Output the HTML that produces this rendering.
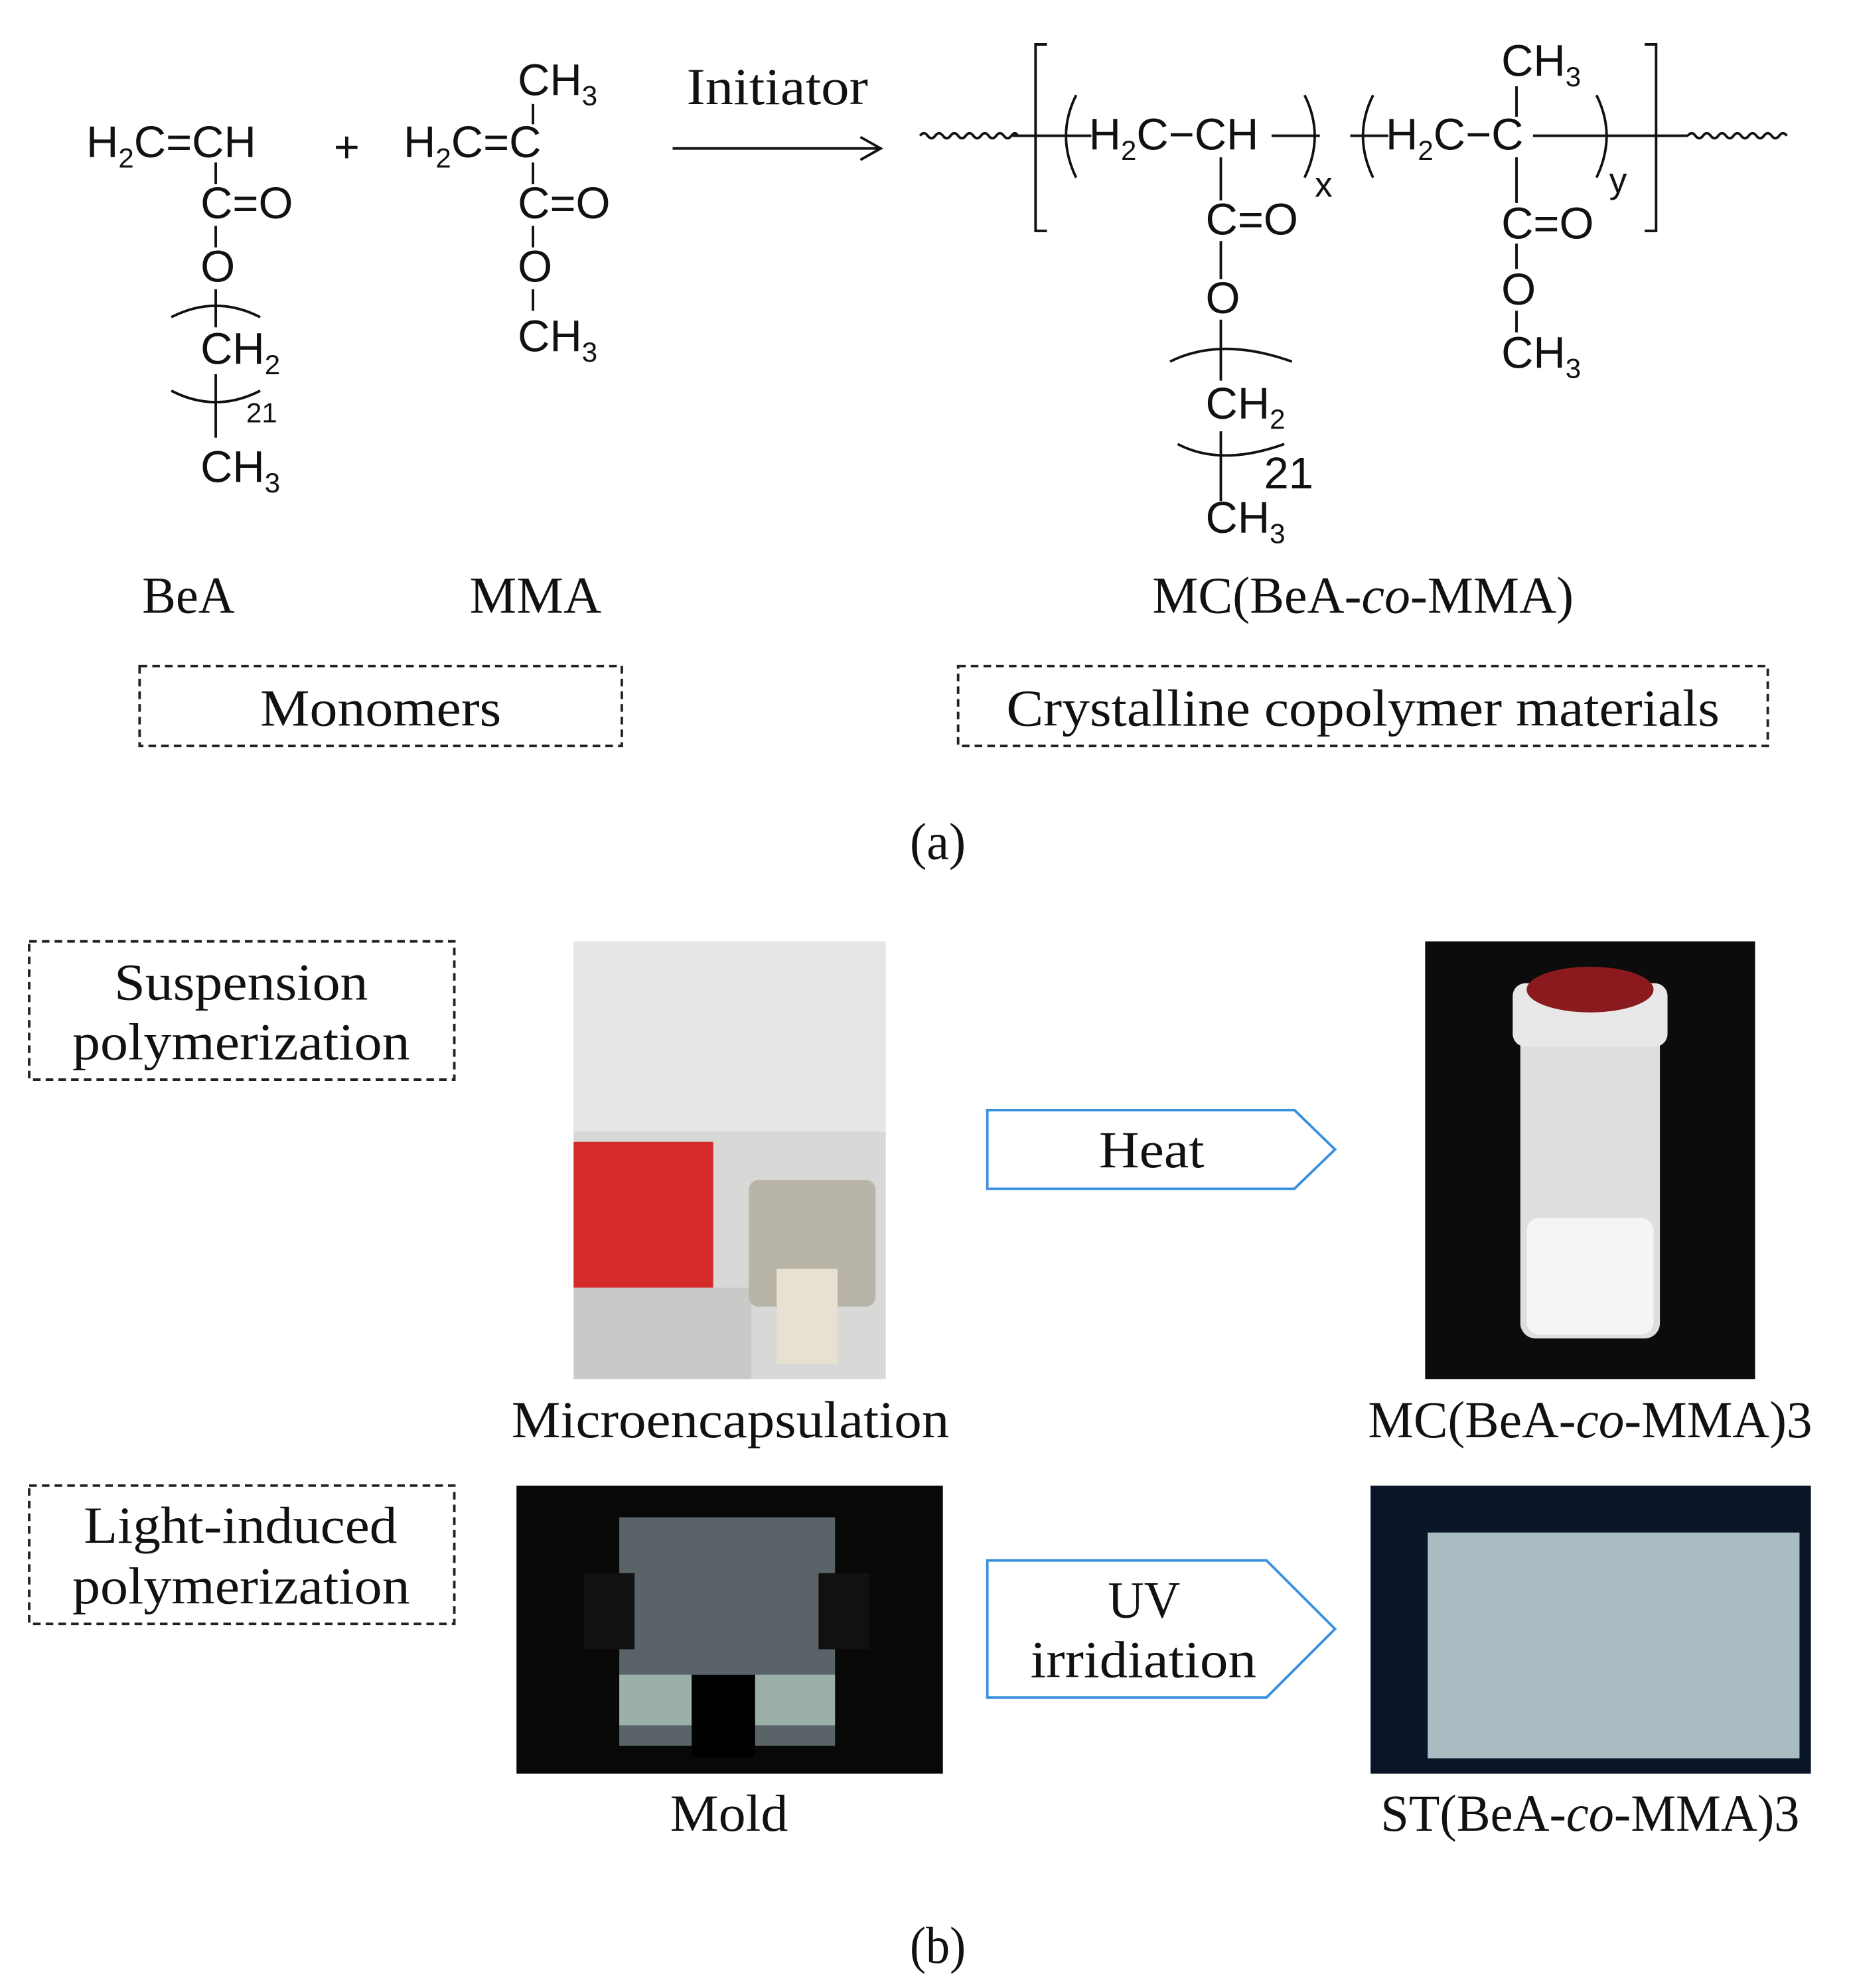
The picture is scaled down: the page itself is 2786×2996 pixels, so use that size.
<!DOCTYPE html>
<html><head><meta charset="utf-8"><style>
html,body{margin:0;padding:0;background:#fff}
svg{display:block}
.c{font-family:"Liberation Sans",sans-serif;font-size:35px;fill:#111}
.s{font-family:"Liberation Serif",serif;font-size:41px;fill:#111}
</style></head><body>
<svg width="2786" height="2996" viewBox="0 0 1457 1567" preserveAspectRatio="none" xmlns="http://www.w3.org/2000/svg">
<rect width="1466" height="1577" fill="#fff"/>
<g stroke="#111" stroke-width="2" fill="none">
<line x1="170" y1="128" x2="170" y2="145"/>
<line x1="170" y1="178" x2="170" y2="195"/>
<line x1="170" y1="228" x2="170" y2="258"/>
<line x1="170" y1="295" x2="170" y2="345"/>
<path d="M135 250 Q170 232 205 250"/>
<path d="M135 308 Q170 326 205 308"/>
<line x1="420" y1="82" x2="420" y2="98"/>
<line x1="420" y1="128" x2="420" y2="145"/>
<line x1="420" y1="178" x2="420" y2="195"/>
<line x1="420" y1="228" x2="420" y2="245"/>
<line x1="530" y1="117" x2="692" y2="117"/>
<path d="M678 108 L694 117 L678 126"/>
<path d="M725 107 q3 -4 6 0 t6 0 t6 0 t6 0 t6 0 t6 0 t6 0 t6 0 t6 0 t6 0 t6 0 t6 0 t5 0"/>
<line x1="798" y1="107" x2="860" y2="107"/>
<path d="M825 35 L816 35 L816 182 L825 182"/>
<path d="M1296 35 L1305 35 L1305 182 L1296 182"/>
<path d="M848 75 Q832 107 848 140"/>
<path d="M1028 75 Q1044 107 1028 140"/>
<path d="M1082 75 Q1066 107 1082 140"/>
<path d="M1258 75 Q1274 107 1258 140"/>
<line x1="1002" y1="107" x2="1040" y2="107"/>
<line x1="1064" y1="107" x2="1094" y2="107"/>
<line x1="1208" y1="107" x2="1330" y2="107"/>
<path d="M1330 107 q3 -4 6 0 t6 0 t6 0 t6 0 t6 0 t6 0 t6 0 t6 0 t6 0 t6 0 t6 0 t6 0 t6 0"/>
<line x1="962" y1="124" x2="962" y2="158"/>
<line x1="962" y1="190" x2="962" y2="220"/>
<line x1="962" y1="252" x2="962" y2="300"/>
<line x1="962" y1="340" x2="962" y2="395"/>
<path d="M922 285 Q962 265 1018 285"/>
<path d="M928 350 Q962 368 1012 350"/>
<line x1="1195" y1="68" x2="1195" y2="92"/>
<line x1="1195" y1="124" x2="1195" y2="160"/>
<line x1="1195" y1="192" x2="1195" y2="212"/>
<line x1="1195" y1="245" x2="1195" y2="262"/>
</g>
<g class="c">
<text x="68" y="124">H<tspan font-size="22" dy="8">2</tspan><tspan dy="-8">C=CH</tspan></text>
<text x="158" y="172">C=O</text>
<text x="158" y="222">O</text>
<text x="158" y="287">CH<tspan font-size="22" dy="8">2</tspan></text>
<text x="194" y="333" font-size="22">21</text>
<text x="158" y="380">CH<tspan font-size="22" dy="8">3</tspan></text>
<text x="263" y="128">+</text>
<text x="408" y="75">CH<tspan font-size="22" dy="8">3</tspan></text>
<text x="318" y="124">H<tspan font-size="22" dy="8">2</tspan><tspan dy="-8">C=C</tspan></text>
<text x="408" y="172">C=O</text>
<text x="408" y="222">O</text>
<text x="408" y="277">CH<tspan font-size="22" dy="8">3</tspan></text>
<text x="858" y="118">H<tspan font-size="22" dy="8">2</tspan><tspan dy="-8">C−CH</tspan></text>
<text x="1036" y="155" font-size="28">x</text>
<text x="1092" y="118">H<tspan font-size="22" dy="8">2</tspan><tspan dy="-8">C−C</tspan></text>
<text x="1268" y="152" font-size="28">y</text>
<text x="950" y="185">C=O</text>
<text x="950" y="247">O</text>
<text x="950" y="330">CH<tspan font-size="22" dy="8">2</tspan></text>
<text x="996" y="385">21</text>
<text x="950" y="420">CH<tspan font-size="22" dy="8">3</tspan></text>
<text x="1183" y="60">CH<tspan font-size="22" dy="8">3</tspan></text>
<text x="1183" y="188">C=O</text>
<text x="1183" y="240">O</text>
<text x="1183" y="290">CH<tspan font-size="22" dy="8">3</tspan></text>
</g>
<g class="s">
<text x="541" y="82" textLength="143" lengthAdjust="spacingAndGlyphs">Initiator</text>
<text x="112" y="483" textLength="73" lengthAdjust="spacingAndGlyphs">BeA</text>
<text x="370" y="483" textLength="104" lengthAdjust="spacingAndGlyphs">MMA</text>
<text x="908" y="483" textLength="332" lengthAdjust="spacingAndGlyphs">MC(BeA-<tspan font-style="italic">co</tspan>-MMA)</text>
<text x="205" y="572" textLength="190" lengthAdjust="spacingAndGlyphs">Monomers</text>
<text x="793" y="572" textLength="562" lengthAdjust="spacingAndGlyphs">Crystalline copolymer materials</text>
<text x="717" y="677" textLength="44" lengthAdjust="spacingAndGlyphs">(a)</text>
<text x="90" y="788" textLength="200" lengthAdjust="spacingAndGlyphs">Suspension</text>
<text x="57" y="835" textLength="266" lengthAdjust="spacingAndGlyphs">polymerization</text>
<text x="66" y="1216" textLength="247" lengthAdjust="spacingAndGlyphs">Light-induced</text>
<text x="57" y="1264" textLength="266" lengthAdjust="spacingAndGlyphs">polymerization</text>
<text x="866" y="920" textLength="83" lengthAdjust="spacingAndGlyphs">Heat</text>
<text x="873" y="1275" textLength="57" lengthAdjust="spacingAndGlyphs">UV</text>
<text x="812" y="1322" textLength="178" lengthAdjust="spacingAndGlyphs">irridiation</text>
<text x="403" y="1133" textLength="345" lengthAdjust="spacingAndGlyphs">Microencapsulation</text>
<text x="1078" y="1133" textLength="350" lengthAdjust="spacingAndGlyphs">MC(BeA-<tspan font-style="italic">co</tspan>-MMA)3</text>
<text x="528" y="1443" textLength="93" lengthAdjust="spacingAndGlyphs">Mold</text>
<text x="1088" y="1443" textLength="330" lengthAdjust="spacingAndGlyphs">ST(BeA-<tspan font-style="italic">co</tspan>-MMA)3</text>
<text x="717" y="1547" textLength="44" lengthAdjust="spacingAndGlyphs">(b)</text>
</g>
<g stroke="#222" stroke-width="2" stroke-dasharray="6,4" fill="none">
<rect x="110" y="525" width="380" height="63"/>
<rect x="755" y="525" width="638" height="63"/>
<rect x="23" y="742" width="335" height="109"/>
<rect x="23" y="1171" width="335" height="109"/>
</g>
<g stroke="#3a8fde" stroke-width="2" fill="none">
<path d="M778 875 L1020 875 L1052 906 L1020 937 L778 937 Z"/>
<path d="M778 1230 L998 1230 L1052 1284 L998 1338 L778 1338 Z"/>
</g>
<rect x="452" y="742" width="246" height="345" fill="#d8d8d6"/>
<rect x="452" y="742" width="246" height="150" fill="#e6e6e4"/>
<rect x="452" y="900" width="110" height="115" fill="#d42a2a"/>
<rect x="452" y="1015" width="140" height="72" fill="#c9c9c7"/>
<rect x="590" y="930" width="100" height="100" rx="8" fill="#b8b4a8"/>
<rect x="612" y="1000" width="48" height="75" fill="#e8e0d0"/>
<rect x="1123" y="742" width="260" height="345" fill="#0c0c0c"/>
<rect x="1198" y="810" width="110" height="245" rx="12" fill="#dedede"/>
<rect x="1192" y="775" width="122" height="50" rx="10" fill="#e8e8e8"/>
<ellipse cx="1253" cy="780" rx="50" ry="18" fill="#8a1a1e"/>
<rect x="1203" y="960" width="100" height="92" rx="10" fill="#f5f5f5"/>
<rect x="407" y="1171" width="336" height="227" fill="#080808"/>
<rect x="488" y="1196" width="170" height="180" fill="#5a6468"/>
<rect x="488" y="1320" width="170" height="40" fill="#9ab0a8"/>
<rect x="545" y="1320" width="50" height="65" fill="#000"/>
<rect x="460" y="1240" width="40" height="60" fill="#111"/>
<rect x="645" y="1240" width="40" height="60" fill="#111"/>
<rect x="1080" y="1171" width="347" height="227" fill="#0b1528"/>
<rect x="1125" y="1208" width="293" height="178" fill="#a9bcc2"/>
</svg>
</body></html>
